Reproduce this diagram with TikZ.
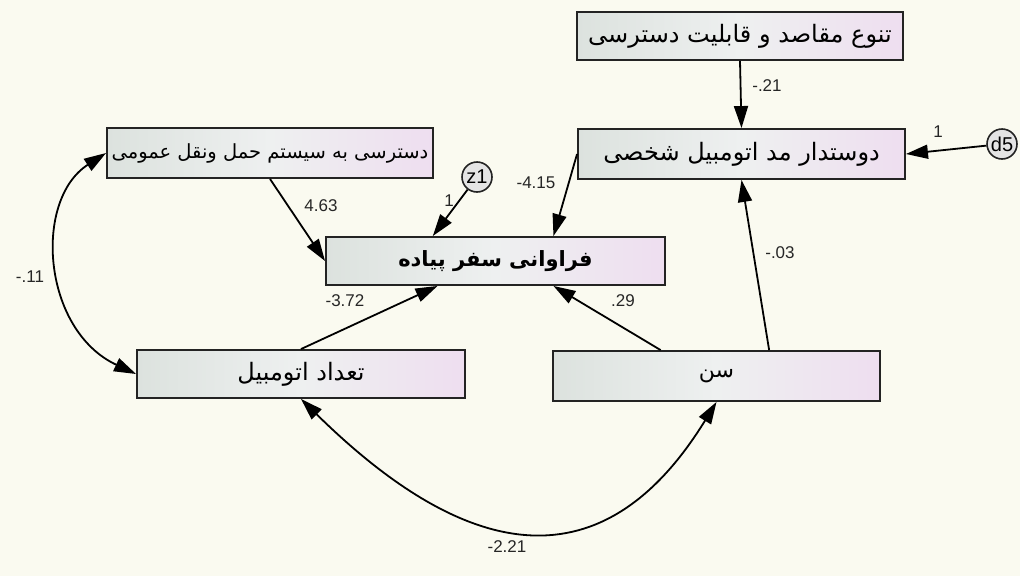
\documentclass[tikz,border=0pt]{standalone}
\usepackage{fontspec}
\setmainfont{Liberation Sans}
\newfontfamily\arabicfont[Script=Arabic]{DejaVu Sans}
\TeXXeTstate=1
\usetikzlibrary{arrows.meta,calc}
\definecolor{bgcol}{RGB}{250,250,240}
\definecolor{boxleft}{RGB}{220,226,222}
\definecolor{boxmid}{RGB}{238,240,240}
\definecolor{boxright}{RGB}{238,222,240}
\definecolor{edgecol}{RGB}{35,35,35}
\definecolor{circfill}{RGB}{228,228,228}
\tikzset{
  varbox/.style={draw=edgecol, line width=1.9pt, left color=boxleft, right color=boxright, middle color=boxmid, shading angle=90, inner sep=0pt, font=\arabicfont\fontsize{24}{28}\selectfont},
  errc/.style={circle, draw=edgecol, line width=1.6pt, fill=circfill, minimum size=30pt, inner sep=0pt, font=\fontsize{20}{22}\selectfont},
  path/.style={line width=1.8pt, -{Triangle[length=22pt,width=14pt]}},
  cov/.style={line width=1.8pt, {Triangle[length=22pt,width=14pt]}-{Triangle[length=22pt,width=14pt]}},
  lbl/.style={font=\fontsize{17}{19}\selectfont, inner sep=0pt, text=black!85}
}
\begin{document}
\begin{tikzpicture}[x=1pt,y=-1pt]
\fill[bgcol] (0,0) rectangle (1020,576);
\useasboundingbox (0,0) rectangle (1020,576);
% boxes
\node[varbox, minimum width=326pt, minimum height=48pt] (t) at (740,36) {\beginR تنوع مقاصد و قابلیت دسترسی\endR};
\node[varbox, minimum width=327pt, minimum height=50pt] (b2) at (741.5,154) {\beginR دوستدار مد اتومبیل شخصی\endR};
\node[varbox, minimum width=326pt, minimum height=50pt, font=\arabicfont\fontsize{19.5}{23}\selectfont] (b3) at (270,153) {\beginR دسترسی به سیستم حمل ونقل عمومی\endR};
\node[varbox, minimum width=339pt, minimum height=48pt, font=\arabicfont\bfseries\fontsize{21}{24}\selectfont] (c) at (495.5,261) {\beginR فراوانی سفر پیاده\endR};
\node[varbox, minimum width=328pt, minimum height=48pt] (b5) at (301,374) {\beginR تعداد اتومبیل\endR};
\node[varbox, minimum width=327pt, minimum height=50pt, font=\arabicfont\fontsize{22}{26}\selectfont] (b6) at (716.5,376) {\beginR سن\endR};
% error terms
\node[errc] (z1) at (477,177) {z1};
\node[errc] (d5) at (1002,144) {d5};
% anchor coordinates
\coordinate (cN1) at ($(c.north west)!0.316!(c.north east)$);
\coordinate (cN2) at ($(c.north west)!0.67!(c.north east)$);
\coordinate (cS1) at ($(c.south west)!0.33!(c.south east)$);
\coordinate (cS2) at ($(c.south west)!0.67!(c.south east)$);
\coordinate (b6N1) at ($(b6.north west)!0.33!(b6.north east)$);
\coordinate (b6N2) at ($(b6.north west)!0.66!(b6.north east)$);
% paths
\draw[path] (t.south) -- (b2.north);
\draw[path] (d5) -- (b2.east);
\draw[path] (z1) -- (cN1);
\draw[path] (b2.west) -- (cN2);
\draw[path] (b3.south) -- (c.west);
\draw[path] (b5.north) -- (cS1);
\draw[path] (b6N1) -- (cS2);
\draw[path] (b6N2) -- (b2.south);
% covariances
\draw[cov] (b3.west) .. controls (33,200) and (42,330) .. (b5.west);
\draw[cov] (b5.south) .. controls (480,575) and (610,575) .. (b6.south);
% labels
\node[lbl] (l1) at (767,86) {-.21};
\node[lbl] (l2) at (938,132) {1};
\node[lbl] (l3) at (536,183) {-4.15};
\node[lbl] (l4) at (321,206) {4.63};
\node[lbl] (l5) at (449,201) {1};
\node[lbl] (l6) at (345,301) {-3.72};
\node[lbl] (l7) at (623,301) {.29};
\node[lbl] (l8) at (780,253) {-.03};
\node[lbl] (l9) at (30,277) {-.11};
\node[lbl] (l10) at (507,547) {-2.21};
\end{tikzpicture}
\end{document}
